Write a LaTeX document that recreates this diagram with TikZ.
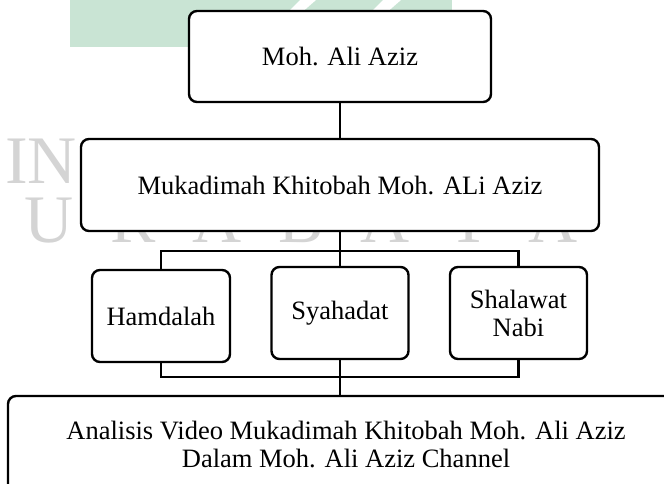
\documentclass[tikz,border=0pt]{standalone}
\usepackage{fontspec}
\setmainfont{Liberation Serif}
\definecolor{wmgreen}{RGB}{201,228,212}
\definecolor{wmgray}{RGB}{212,212,212}
\tikzset{
  box/.style={draw=black, line width=2.4pt, rounded corners=8pt, fill=white,
    align=center, inner sep=0pt, font=\fontsize{26.5}{28}\selectfont},
  conn/.style={draw=black, line width=2.2pt},
  wm/.style={text=wmgray, inner sep=0pt, font=\fontsize{68}{68}\selectfont}
}
\begin{document}
\begin{tikzpicture}[x=1pt,y=-1pt]
\useasboundingbox (0,0) rectangle (664,484);
\clip (0,0) rectangle (664,484);
% watermark background
\fill[wmgreen] (70,0) rectangle (452,47);
\fill[white] (300,0) -- (316,0) -- (300,14) -- (286,14) -- cycle;
\fill[white] (383,0) -- (401,0) -- (385,14) -- (369,14) -- cycle;
\node[wm, anchor=base west] (wmIN) at (5,183) {IN};
\foreach \x/\c [count=\i] in {49/U,133/R,217/A,301/B,385/A,469/Y,553/A}{
  \node[wm, anchor=base] (wm\i) at (\x,242) {\c};
}
% boxes
\node[box, minimum width=302pt, minimum height=91pt] (top) at (340,56.5) {Moh. Ali Aziz};
\node[box, minimum width=518pt, minimum height=92pt] (muk) at (340,185) {Mukadimah Khitobah Moh. ALi Aziz};
\node[box, minimum width=138pt, minimum height=92pt] (ham) at (161,316) {Hamdalah};
\node[box, minimum width=137pt, minimum height=92pt] (sya) at (340,313) {Syahadat};
\node[box, minimum width=137pt, minimum height=92pt] (sha) at (518.5,313) {Shalawat\\Nabi};
\node[box, minimum width=676pt, minimum height=96pt] (ana) at (346,444) {Analisis Video Mukadimah Khitobah Moh. Ali Aziz\\Dalam Moh. Ali Aziz Channel};
% connectors
\coordinate (bt) at (340,251);
\coordinate (bb) at (340,377);
\draw[conn] (top.south) -- (muk.north);
\draw[conn] (muk.south) -- (sya.north);
\draw[conn] (ham.north) |- (bt) -| (sha.north);
\draw[conn] (ham.south) |- (bb) -| (sha.south);
\draw[conn] (sya.south) -- (sya.south |- ana.north);
\end{tikzpicture}
\end{document}
